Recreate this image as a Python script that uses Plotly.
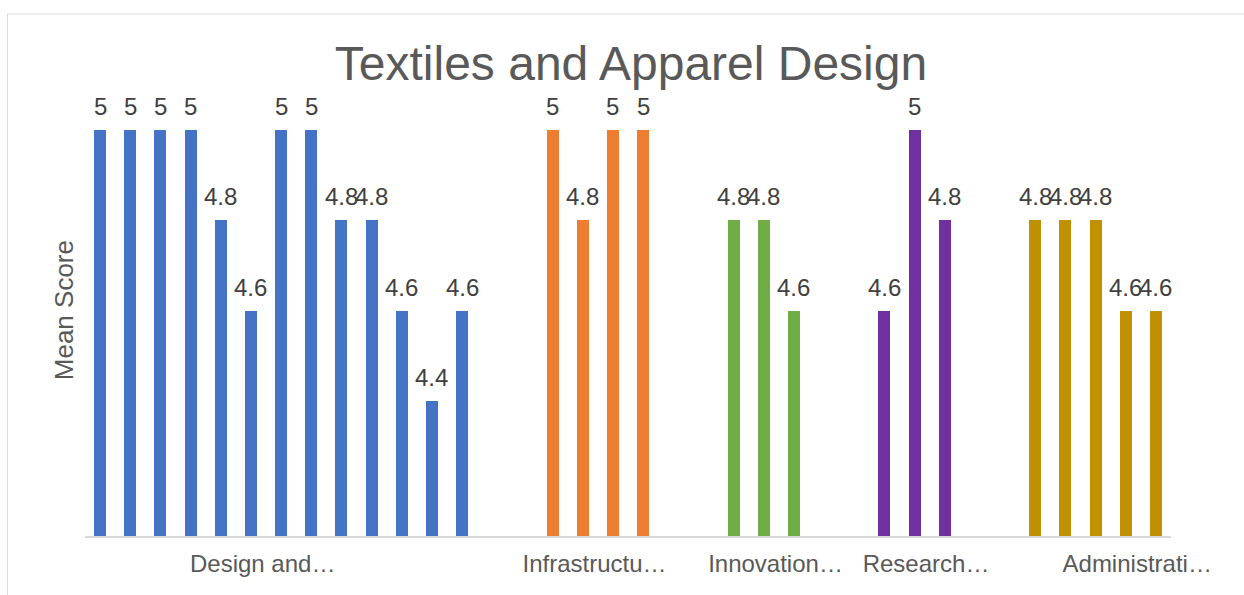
import plotly.graph_objects as go

# ---- data ----
groups = ["Design and…", "Infrastructu…", "Innovation…", "Research…", "Administrati…"]
design_scores = [5, 5, 5, 5, 4.8, 4.6, 5, 5, 4.8, 4.8, 4.6, 4.4, 4.6]
infrastructure_scores = [5, 4.8, 5, 5]
innovation_scores = [4.8, 4.8, 4.6]
research_scores = [4.6, 5, 4.8]
administration_scores = [4.8, 4.8, 4.8, 4.6, 4.6]
group_colors = ["#4472C4", "#ED7D31", "#70AD47", "#7030A0", "#BF9000"]

series = [design_scores, infrastructure_scores, innovation_scores,
          research_scores, administration_scores]

GAP = 2  # empty category slots between groups
FONT = "Liberation Sans, Arial, sans-serif"

fig = go.Figure()
annotations = []
slot = 0
for name, vals, col in zip(groups, series, group_colors):
    xs = list(range(slot, slot + len(vals)))
    fig.add_trace(go.Bar(x=xs, y=vals, marker_color=col, width=0.4,
                         name=name, showlegend=False,
                         marker_line_width=0))
    for x, v in zip(xs, vals):
        annotations.append(dict(x=x, y=v, xref="x", yref="y", text=f"{v:g}",
                                showarrow=False, yanchor="bottom", yshift=8,
                                font=dict(size=24, color="#404040", family=FONT)))
    slot += len(vals) + GAP

# category label anchor slots (as placed in the original chart)
label_ticks = [5.39, 16.39, 22.39, 27.38, 34.38]

annotations.append(dict(text="Mean Score", x=-0.0196, y=0.5, xref="paper", yref="paper",
                        textangle=-90, showarrow=False, xanchor="center", yanchor="middle",
                        font=dict(size=26, color="#595959", family=FONT)))

fig.update_layout(
    width=1244, height=595,
    margin=dict(l=85, r=73, t=85, b=59),
    paper_bgcolor="white", plot_bgcolor="white",
    title=dict(text="Textiles and Apparel Design", x=631/1244, xref="container",
               xanchor="center", y=1 - 63.5/595, yref="container", yanchor="middle",
               font=dict(size=48, color="#595959", family=FONT)),
    xaxis=dict(range=[-0.5, slot - GAP - 0.5], tickvals=label_ticks, ticktext=groups,
               showgrid=False, zeroline=False, showline=True, linecolor="#D9D9D9",
               linewidth=1.5, ticks="", ticklabelstandoff=5,
               tickfont=dict(size=24, color="#595959", family=FONT)),
    yaxis=dict(range=[4.1, 5.1], showgrid=False, zeroline=False, showticklabels=False,
               showline=False, ticks=""),
    annotations=annotations,
    shapes=[dict(type="rect", xref="paper", yref="paper",
                 x0=(7.5 - 85) / 1086, x1=(1250 - 85) / 1086,
                 y0=(536 - 600) / 451, y1=(536 - 14) / 451,
                 line=dict(color="#D9D9D9", width=1), fillcolor="rgba(0,0,0,0)")],
    bargap=0,
)

fig.write_html("out.html", config={"displayModeBar": False},
               post_script="document.body.style.margin='0';")
